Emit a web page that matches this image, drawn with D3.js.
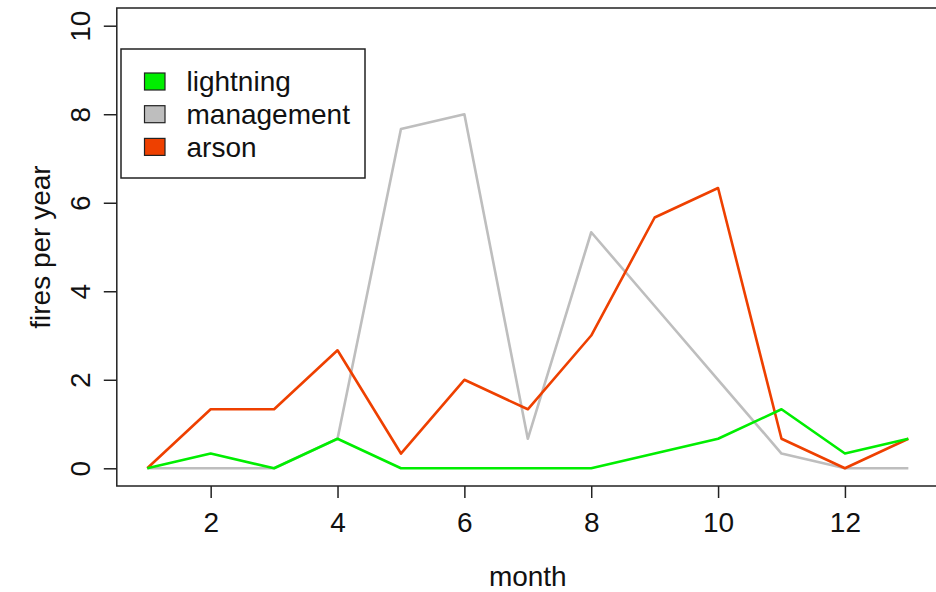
<!DOCTYPE html>
<html>
<head>
<meta charset="utf-8">
<script src="https://cdn.jsdelivr.net/npm/d3@7"></script>
<style>
body { margin: 0; background: #fff; }
text { font-family: "Liberation Sans", Arial, sans-serif; fill: #111; }
</style>
</head>
<body>
<script>
// fires per year by month (three-year averages)
var months = [1, 2, 3, 4, 5, 6, 7, 8, 9, 10, 11, 12, 13];
var lightning = [0, 1/3, 0, 2/3, 0, 0, 0, 0, 1/3, 2/3, 4/3, 1/3, 2/3];
var management = [0, 0, 0, 2/3, 23/3, 8, 2/3, 16/3, 11/3, 2, 1/3, 0, 0];
var arson = [0, 4/3, 4/3, 8/3, 1/3, 2, 4/3, 3, 17/3, 19/3, 2/3, 0, 2/3];
var seriesNames = ["lightning", "management", "arson"];
var seriesColors = ["#00ee00", "#bebebe", "#ee4000"];
var xTicks = [2, 4, 6, 8, 10, 12];
var yTicks = [0, 2, 4, 6, 8, 10];

var width = 936, height = 592;
var plotLeft = 116.8, plotRight = 938.8, plotTop = 8, plotBottom = 486;
var fontSize = 28;

var x = d3.scaleLinear().domain([0.52, 13.48]).range([plotLeft, plotRight]);
var y = d3.scaleLinear().domain([-0.4, 10.4]).range([plotBottom, plotTop]);

var svg = d3.select("body").append("svg").attr("width", width).attr("height", height);

// lines: management first, then arson, lightning on top
var line = d3.line().x(function (d, i) { return x(months[i]); }).y(function (d) { return y(d); });
var drawOrder = [1, 2, 0];
var allSeries = [lightning, management, arson];
drawOrder.forEach(function (k) {
    svg.append("path").datum(allSeries[k])
        .attr("d", line)
        .attr("fill", "none")
        .attr("stroke", seriesColors[k])
        .attr("stroke-width", 2.6)
        .attr("stroke-linejoin", "round");
});

// box
svg.append("rect").attr("x", plotLeft).attr("y", plotTop)
    .attr("width", plotRight - plotLeft).attr("height", plotBottom - plotTop)
    .attr("fill", "none").attr("stroke", "#222").attr("stroke-width", 1.5);

// axes
var xaxis = d3.axisBottom(x).tickValues(xTicks).tickSize(12).tickPadding(14);
var gx = svg.append("g").attr("transform", "translate(0," + plotBottom + ")").call(xaxis);
gx.select(".domain").remove();
gx.selectAll("line").attr("stroke", "#222").attr("stroke-width", 1.5);
gx.selectAll("text").attr("font-size", fontSize).style("font-family", "Liberation Sans, Arial, sans-serif").attr("fill", "#111");

var yaxis = d3.axisLeft(y).tickValues(yTicks).tickSize(13);
var gy = svg.append("g").attr("transform", "translate(" + plotLeft + ",0)").call(yaxis);
gy.select(".domain").remove();
gy.selectAll("line").attr("stroke", "#222").attr("stroke-width", 1.5);
gy.selectAll("text")
    .attr("font-size", fontSize).style("font-family", "Liberation Sans, Arial, sans-serif").attr("fill", "#111")
    .attr("x", 0).attr("y", 0).attr("dy", "0.35em")
    .attr("text-anchor", "middle")
    .attr("transform", "translate(-37,0) rotate(-90)");

// axis titles
svg.append("text").attr("x", (plotLeft + plotRight) / 2).attr("y", 576).attr("dy", "0.35em")
    .attr("text-anchor", "middle").attr("font-size", fontSize).text("month");
svg.append("text").attr("transform", "translate(40," + ((plotTop + plotBottom) / 2) + ") rotate(-90)")
    .attr("dy", "0.35em").attr("text-anchor", "middle").attr("font-size", fontSize).text("fires per year");

// legend
var legend = svg.append("g");
legend.append("rect").attr("x", 121).attr("y", 49).attr("width", 244).attr("height", 129)
    .attr("fill", "#fff").attr("stroke", "#222").attr("stroke-width", 1.5);
var rows = legend.selectAll("g.row").data(seriesNames).enter().append("g")
    .attr("transform", function (d, i) { return "translate(0," + (81.5 + i * 32.7) + ")"; });
rows.append("rect").attr("x", 144.5).attr("y", -8.5).attr("width", 20.5).attr("height", 17)
    .attr("fill", function (d, i) { return seriesColors[i]; })
    .attr("stroke", "#222").attr("stroke-width", 1.2);
rows.append("text").attr("x", 186.5).attr("dy", "0.35em").attr("font-size", fontSize)
    .text(function (d) { return d; });
</script>
</body>
</html>
